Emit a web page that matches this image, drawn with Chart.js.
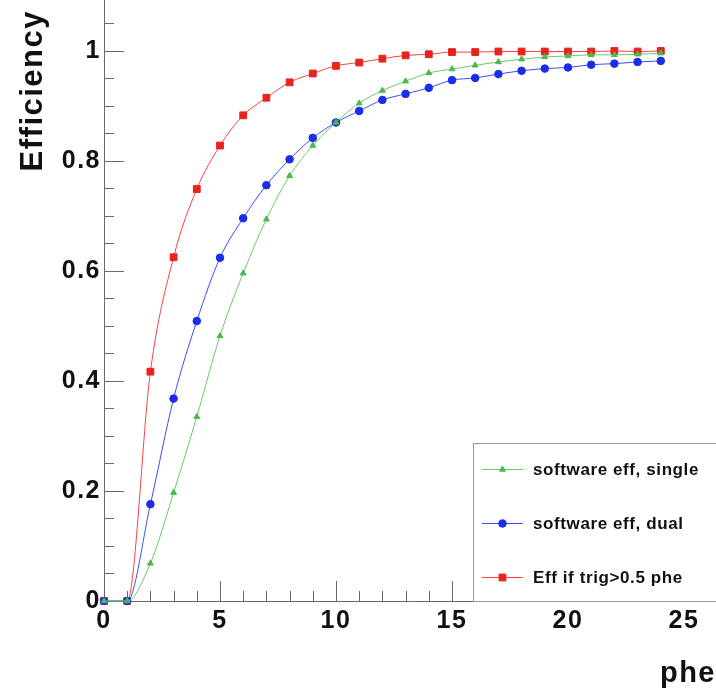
<!DOCTYPE html>
<html>
<head>
<meta charset="utf-8">
<script src="https://cdn.jsdelivr.net/npm/chart.js@4/dist/chart.umd.min.js"></script>
<style>
  html, body { margin: 0; padding: 0; background: #fff; }
  canvas { display: block; }
</style>
</head>
<body>
<canvas id="eff" width="716" height="695"></canvas>
<script>
// Number of photoelectrons
const phe = [0, 1, 2, 3, 4, 5, 6, 7, 8, 9, 10, 11, 12, 13, 14, 15, 16, 17, 18, 19, 20, 21, 22, 23, 24];

// Efficiency curves
const effSingle = [0, 0, 0.0685, 0.197, 0.335, 0.482, 0.596, 0.694, 0.773, 0.828, 0.870, 0.905, 0.928,
                   0.945, 0.960, 0.967, 0.974, 0.980, 0.985, 0.989, 0.991, 0.993, 0.993, 0.994, 0.996];
const effDual   = [0, 0, 0.176, 0.368, 0.509, 0.624, 0.696, 0.756, 0.803, 0.842, 0.870, 0.891, 0.911,
                   0.922, 0.933, 0.947, 0.951, 0.958, 0.964, 0.968, 0.970, 0.975, 0.977, 0.980, 0.982];
const effTrig   = [0, 0, 0.417, 0.625, 0.749, 0.828, 0.883, 0.915, 0.943, 0.959, 0.973, 0.979, 0.986,
                   0.992, 0.994, 0.998, 0.998, 0.999, 0.999, 0.999, 0.999, 0.999, 1.000, 0.999, 1.000];

const seriesLabels = ['software eff, single', 'software eff, dual', 'Eff if trig>0.5 phe'];

// Axis tick labels
const xTickValues = [0, 5, 10, 15, 20, 25];
const yTickValues = [0, 0.2, 0.4, 0.6, 0.8, 1];
const xMinorStep = 1;
const yMinorStep = 0.05;

const FONT = "'Liberation Sans', Arial, Helvetica, sans-serif";
const AXIS_COLOR = '#6a6a6a';

function series(values) {
  return phe.map((p, i) => ({ x: p, y: values[i] }));
}

// no extra room for the outermost tick labels: the frame fills the canvas
function noLabelPadding(s) {
  s.paddingLeft = 0; s.paddingRight = 0; s.paddingTop = 0; s.paddingBottom = 0;
}

// slightly wider text, like the ROOT Helvetica rendering
const wideText = {
  id: 'wideText',
  beforeDraw(chart) { chart.ctx.letterSpacing = '1.5px'; }
};

// ROOT-style axes: ticks pointing into the frame, minor ticks between labels
const innerTicks = {
  id: 'innerTicks',
  beforeDatasetsDraw(chart) {
    const { ctx, chartArea: a, scales: { x, y } } = chart;
    ctx.save();
    ctx.strokeStyle = AXIS_COLOR;
    ctx.lineWidth = 1;
    ctx.beginPath();
    ctx.moveTo(a.left + 0.5, 0);
    ctx.lineTo(a.left + 0.5, a.bottom + 0.5);
    ctx.lineTo(chart.width, a.bottom + 0.5);
    const nY = Math.floor(y.max / yMinorStep + 1e-6);
    for (let i = 0; i <= nY; i++) {
      const py = Math.round(y.getPixelForValue(i * yMinorStep)) + 0.5;
      const len = i % 4 === 0 ? 20 : 10;
      ctx.moveTo(a.left, py);
      ctx.lineTo(a.left + len, py);
    }
    const nX = Math.floor(x.max / xMinorStep + 1e-6);
    for (let i = 0; i <= nX; i++) {
      const px = Math.round(x.getPixelForValue(i * xMinorStep)) + 0.5;
      const len = i % 5 === 0 ? 20 : 10;
      ctx.moveTo(px, a.bottom);
      ctx.lineTo(px, a.bottom - len);
    }
    ctx.stroke();
    ctx.restore();
  }
};

// Legend box in the lower right corner of the frame
const cornerLegend = {
  id: 'cornerLegend',
  afterDatasetsDraw(chart) {
    const { ctx, chartArea: a } = chart;
    const left = 473, top = 443;
    const rows = [469, 523, 577];
    ctx.save();
    ctx.fillStyle = '#fff';
    ctx.fillRect(left, top, chart.width - left + 10, a.bottom - top);
    ctx.strokeStyle = '#999';
    ctx.lineWidth = 1;
    ctx.strokeRect(left + 0.5, top + 0.5, chart.width - left + 10, a.bottom - top);
    chart.data.datasets.forEach((ds, i) => {
      const yy = rows[i];
      ctx.strokeStyle = ds.borderColor;
      ctx.lineWidth = 1;
      ctx.beginPath();
      ctx.moveTo(482, yy + 0.5);
      ctx.lineTo(523, yy + 0.5);
      ctx.stroke();
      ctx.fillStyle = ds.pointBackgroundColor;
      ctx.strokeStyle = ds.pointBorderColor;
      Chart.helpers.drawPoint(ctx, {
        pointStyle: ds.pointStyle,
        radius: ds.pointRadius,
        borderWidth: 1,
        rotation: 0
      }, 502.5, yy + 0.5);
      ctx.fillStyle = '#111';
      ctx.font = 'bold 17px ' + FONT;
      ctx.letterSpacing = '0.6px';
      ctx.textAlign = 'left';
      ctx.textBaseline = 'middle';
      ctx.fillText(ds.label, 533, yy + 1);
    });
    ctx.restore();
  }
};

const commonDs = {
  borderWidth: 1,
  pointBorderWidth: 1,
  cubicInterpolationMode: 'monotone',
  clip: false
};

new Chart(document.getElementById('eff'), {
  type: 'line',
  data: {
    datasets: [
      Object.assign({}, commonDs, {
        label: seriesLabels[0], data: series(effSingle),
        borderColor: '#66cc66', pointBackgroundColor: '#4cb84c', pointBorderColor: '#4cb84c',
        pointStyle: 'triangle', pointRadius: 3.4
      }),
      Object.assign({}, commonDs, {
        label: seriesLabels[1], data: series(effDual),
        borderColor: '#3a4cff', pointBackgroundColor: '#1a2ee8', pointBorderColor: '#1a2ee8',
        pointStyle: 'circle', pointRadius: 3.8
      }),
      Object.assign({}, commonDs, {
        label: seriesLabels[2], data: series(effTrig),
        borderColor: '#ff4040', pointBackgroundColor: '#e8231e', pointBorderColor: '#e8231e',
        pointStyle: 'rect', pointRadius: 4.8
      })
    ]
  },
  options: {
    responsive: false,
    animation: false,
    devicePixelRatio: 1,
    layout: { autoPadding: false, padding: { top: 10, right: 0, bottom: 0, left: 0 } },
    plugins: { legend: { display: false }, tooltip: { enabled: false } },
    scales: {
      x: {
        type: 'linear',
        min: 0,
        max: 26.38,
        border: { display: false },
        grid: { display: false, drawTicks: false },
        afterBuildTicks: s => { s.ticks = xTickValues.map(v => ({ value: v })); },
        afterFit: s => { s.height = 94; noLabelPadding(s); },
        ticks: {
          padding: 5, color: '#111', autoSkip: false, maxRotation: 0,
          font: { family: FONT, size: 25, weight: 'bold' },
          callback: v => String(v)
        },
        title: {
          display: true, text: 'phe', align: 'end', color: '#111',
          font: { family: FONT, size: 29, weight: 'bold' },
          padding: { top: 0, bottom: 4 }
        }
      },
      y: {
        type: 'linear',
        min: 0,
        max: 1.0745,
        border: { display: false },
        grid: { display: false, drawTicks: false },
        afterBuildTicks: s => { s.ticks = yTickValues.map(v => ({ value: v })); },
        afterFit: s => { s.width = 104; noLabelPadding(s); },
        ticks: {
          padding: 3, color: '#111', autoSkip: false,
          font: { family: FONT, size: 25, weight: 'bold' },
          callback: v => String(Math.round(v * 10) / 10)
        },
        title: {
          display: true, text: 'Efficiency', align: 'end', color: '#111',
          font: { family: FONT, size: 31, weight: 'bold' },
          padding: { top: 15, bottom: 0 }
        }
      }
    }
  },
  plugins: [wideText, innerTicks, cornerLegend]
});
</script>
</body>
</html>
